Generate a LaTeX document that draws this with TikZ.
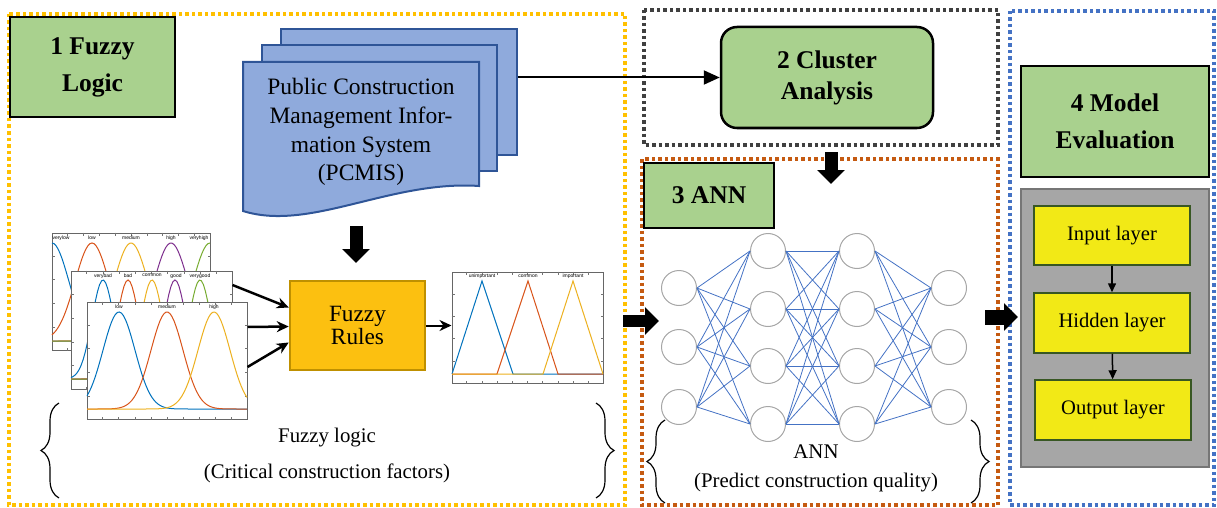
\documentclass[tikz,border=0pt]{standalone}
\usepackage{fontspec}
\setmainfont{Liberation Serif}
\newfontfamily\chartfont{Liberation Sans}
\usetikzlibrary{arrows.meta,decorations.pathreplacing,calc}

\definecolor{headgreen}{RGB}{169,209,142}
\definecolor{docblue}{RGB}{143,170,220}
\definecolor{docedge}{RGB}{47,85,151}
\definecolor{rulegold}{RGB}{252,192,16}
\definecolor{ruleedge}{RGB}{191,144,0}
\definecolor{boxyellow}{RGB}{255,192,0}
\definecolor{boxgray}{RGB}{64,64,64}
\definecolor{boxorange}{RGB}{197,90,17}
\definecolor{boxblue}{RGB}{68,114,196}
\definecolor{layeryellow}{RGB}{242,233,22}
\definecolor{layeredge}{RGB}{56,87,35}
\definecolor{panelgray}{RGB}{166,166,166}
\definecolor{paneledge}{RGB}{118,118,118}
\definecolor{mfblue}{RGB}{0,114,189}
\definecolor{mforange}{RGB}{217,83,25}
\definecolor{mfyellow}{RGB}{237,177,32}
\definecolor{mfpurple}{RGB}{126,47,142}
\definecolor{mfgreen}{RGB}{119,172,48}

% small tick marks on the frame of a chart node
\newcommand{\charticks}[1]{%
  \foreach \f in {0.1,0.2,...,0.95} {
    \draw[black!55, line width=0.6pt] ($(#1.south west)!\f!(#1.south east)$) -- ++(0,-3);
    \draw[black!55, line width=0.6pt] ($(#1.north west)!\f!(#1.north east)$) -- ++(0,3);
  }
  \foreach \f in {0.2,0.4,0.6,0.8} {
    \draw[black!55, line width=0.6pt] ($(#1.south west)!\f!(#1.north west)$) -- ++(3,0);
    \draw[black!55, line width=0.6pt] ($(#1.south east)!\f!(#1.north east)$) -- ++(-3,0);
  }}

\tikzset{
  region/.style={line width=3.5pt, dash pattern=on 3.5pt off 3pt},
  head/.style={draw=black, line width=2.5pt, fill=headgreen, align=center, inner sep=0pt,
    font=\fontsize{25.5}{37}\selectfont\bfseries},
  docpage/.style={draw=docedge, fill=docblue, line width=2pt, inner sep=0pt},
  rulebox/.style={draw=ruleedge, fill=rulegold, line width=2.5pt, align=center, inner sep=0pt,
    minimum width=135pt, minimum height=89pt, font=\fontsize{23.3}{20.5}\selectfont},
  layerbox/.style={draw=layeredge, fill=layeryellow, line width=1.5pt, inner sep=0pt,
    minimum width=156pt, minimum height=59pt, font=\fontsize{20.6}{24}\selectfont},
  neuron/.style={circle, draw=black!35, line width=1pt, minimum size=35pt, inner sep=0pt},
  synapse/.style={draw=boxblue, line width=0.8pt},
  chart/.style={draw=black!60, fill=white, line width=1pt, inner sep=0pt},
  mflabel/.style={font=\chartfont\fontsize{5}{6}\selectfont, inner sep=0pt},
  mf/.style={line width=1pt, samples=80},
  arr/.style={line width=2.5pt, -{Stealth[length=12pt,width=11pt]}},
  linkarr/.style={line width=2pt, -{Triangle[length=16pt,width=14pt]}},
  thinarr/.style={line width=1.5pt, -{Triangle[length=9pt,width=8pt]}},
  fatarrow/.style={line width=13pt, -{Triangle[length=14pt,width=27pt]}},
  bracetext/.style={font=\fontsize{20.8}{24}\selectfont, inner sep=0pt},
  curly/.style={decorate, decoration={brace, amplitude=18pt}, line width=1.2pt}
}

\begin{document}
\begin{tikzpicture}[x=1pt, y=-1pt]
  \useasboundingbox (0,0) rectangle (1217,508);

  % dotted frames of the four steps
  \draw[region, boxyellow] (9,14) rectangle (625,505);
  \draw[region, boxgray] (644,10) rectangle (998,145);
  \draw[region, boxorange] (642,159) rectangle (998,505);
  \draw[region, boxblue] (1010,11) rectangle (1214,505);

  % step headers
  \node[head, minimum width=165pt, minimum height=100pt] (fuzzyhead) at (92.5,67) {1 Fuzzy\\Logic};
  \node[head, rounded corners=16pt, minimum width=212pt, minimum height=101pt,
    font=\fontsize{25.5}{31}\selectfont\bfseries] (cluster) at (827,77.5) {2 Cluster\\Analysis};
  \node[head, minimum width=130pt, minimum height=65pt] (annhead) at (709,195.5) {3 ANN};
  \node[head, minimum width=188pt, minimum height=111pt] (evalhead) at (1115,121.5) {4 Model\\Evaluation};

  % PCMIS document stack
  \node[docpage, minimum width=236pt, minimum height=126pt] (pcmisB) at (399,92) {};
  \node[docpage, minimum width=235pt, minimum height=126pt] (pcmisM) at (379.5,108) {};
  \filldraw[draw=docedge, fill=docblue, line width=2pt] (243,211) -- (243,62) -- (479,62) -- (479,186)
    .. controls (390,180) and (310,232) .. (243,211) -- cycle;
  \node[align=center, inner sep=0pt, font=\fontsize{23.5}{28.7}\selectfont] (pcmis) at (361,132)
    {Public Construction\\Management Infor-\\mation System\\(PCMIS)};

  \draw[linkarr] (pcmisB.east |- cluster.west) -- (cluster.west);

  % membership function charts
  \node[chart, minimum width=158pt, minimum height=117pt] (chartA) at (131,291.5) {};
  \charticks{chartA}
  \draw[mf, mfblue, domain=52:210] plot (\x, {341-98*exp(-0.5*((\x-52)/17)^2)});
  \draw[mf, mforange, domain=52:210] plot (\x, {341-98*exp(-0.5*((\x-92)/17)^2)});
  \draw[mf, mfyellow, domain=52:210] plot (\x, {341-98*exp(-0.5*((\x-131)/17)^2)});
  \draw[mf, mfpurple, domain=52:210] plot (\x, {341-98*exp(-0.5*((\x-171)/17)^2)});
  \draw[mf, mfgreen, domain=52:210] plot (\x, {341-98*exp(-0.5*((\x-210)/17)^2)});
  \node[mflabel] (a1) at (61,238) {verylow};
  \node[mflabel] (a2) at (92,238) {low};
  \node[mflabel] (a3) at (131,238) {medium};
  \node[mflabel] (a4) at (171,238) {high};
  \node[mflabel] (a5) at (199,238) {veryhigh};

  \node[chart, minimum width=161pt, minimum height=118pt] (chartB) at (151.5,330) {};
  \charticks{chartB}
  \draw[mf, mfblue, domain=71:232] plot (\x, {379-99*exp(-0.5*((\x-103)/11)^2)});
  \draw[mf, mforange, domain=71:232] plot (\x, {379-99*exp(-0.5*((\x-128)/11)^2)});
  \draw[mf, mfyellow, domain=71:232] plot (\x, {379-99*exp(-0.5*((\x-152)/11)^2)});
  \draw[mf, mfpurple, domain=71:232] plot (\x, {379-99*exp(-0.5*((\x-175)/11)^2)});
  \draw[mf, mfgreen, domain=71:232] plot (\x, {379-99*exp(-0.5*((\x-200)/11)^2)});
  \node[mflabel] (b1) at (103,276) {verybad};
  \node[mflabel] (b2) at (128,276) {bad};
  \node[mflabel] (b3) at (152,275) {common};
  \node[mflabel] (b4) at (176,276) {good};
  \node[mflabel] (b5) at (200,276) {verygood};

  \node[chart, minimum width=160pt, minimum height=117pt] (chartC) at (167,360.5) {};
  \charticks{chartC}
  \draw[mf, mfblue, domain=87:247] plot (\x, {409-97*exp(-0.5*((\x-119)/16)^2)});
  \draw[mf, mforange, domain=87:247] plot (\x, {409-97*exp(-0.5*((\x-167)/16)^2)});
  \draw[mf, mfyellow, domain=87:247] plot (\x, {409-97*exp(-0.5*((\x-214)/16)^2)});
  \node[mflabel] (c1) at (119,307) {low};
  \node[mflabel] (c2) at (167,307) {medium};
  \node[mflabel] (c3) at (214,307) {high};

  % fuzzy rules and output sets
  \node[rulebox] (rules) at (357.5,325.5) {Fuzzy\\Rules};
  \draw[fatarrow] (356,226) coordinate (dnA) -- (356,263) coordinate (dnB);
  \draw[arr] (chartB.east |- 0,285) -- ([yshift=18pt]rules.west);
  \draw[arr] (chartC.east |- 0,327) -- ([yshift=-1pt]rules.west);
  \draw[arr] (chartC.east |- 0,367) -- ([yshift=-17pt]rules.west);

  \node[chart, minimum width=151pt, minimum height=111pt] (chartO) at (527.5,327.5) {};
  \charticks{chartO}
  \draw[arr, line width=2pt] (rules.east) -- (chartO.west |- rules.east);
  \draw[mf, mfblue] (452,374) -- (482,281) -- (513,374) -- (603,374);
  \draw[mf, mforange] (452,374) -- (497,374) -- (528,281) -- (558,374) -- (603,374);
  \draw[mf, mfyellow] (452,374) -- (543,374) -- (573,281) -- (603,374);
  \node[mflabel] (o1) at (482,276) {unimportant};
  \node[mflabel] (o2) at (528,276) {common};
  \node[mflabel] (o3) at (573,276) {important};

  \draw[curly] (59,498) -- (59,403);
  \draw[curly] (596,403) -- (596,498);
  \node[bracetext] (fuzzyname) at (327,438) {Fuzzy logic};
  \node[bracetext] (fuzzynote) at (327,473) {(Critical construction factors)};

  % neural network
  \draw[fatarrow] (831,152) coordinate (dnC) -- (831,184) coordinate (dnD);
  \draw[fatarrow, line width=12pt] (623,321) coordinate (inA) -- (659,321) coordinate (inB);
  \foreach \i/\y in {1/288,2/347,3/407} {
    \node[neuron] (n1\i) at (679,\y) {};
    \node[neuron] (n4\i) at (949,\y) {};
  }
  \foreach \i/\y in {1/251,2/309,3/366,4/424} {
    \node[neuron] (n2\i) at (768,\y) {};
    \node[neuron] (n3\i) at (857,\y) {};
  }
  \foreach \i in {1,2,3}
    \foreach \j in {1,...,4} {
      \draw[synapse] (n1\i.east) -- (n2\j.west);
      \draw[synapse] (n3\j.east) -- (n4\i.west);
    }
  \foreach \i in {1,...,4}
    \foreach \j in {1,...,4}
      \draw[synapse] (n2\i.east) -- (n3\j.west);

  \draw[curly] (665,503) -- (665,420);
  \draw[curly] (971,420) -- (971,503);
  \node[bracetext] (annname) at (816,452) {ANN};
  \node[bracetext] (annnote) at (816,483) {(Predict construction quality)};

  % model evaluation
  \draw[fatarrow, line width=15pt] (985,317) coordinate (evA) -- (1018,317) coordinate (evB);
  \node[draw=paneledge, fill=panelgray, line width=2pt, minimum width=188pt, minimum height=278pt] (panel) at (1115,328) {};
  \node[layerbox] (input) at (1112,235.5) {Input layer};
  \node[layerbox, minimum height=60pt] (hidden) at (1112,323) {Hidden layer};
  \node[layerbox, minimum height=60pt] (output) at (1113,410) {Output layer};
  \draw[thinarr] (input) -- (hidden);
  \draw[thinarr] (hidden) -- (output);
\end{tikzpicture}
\end{document}
